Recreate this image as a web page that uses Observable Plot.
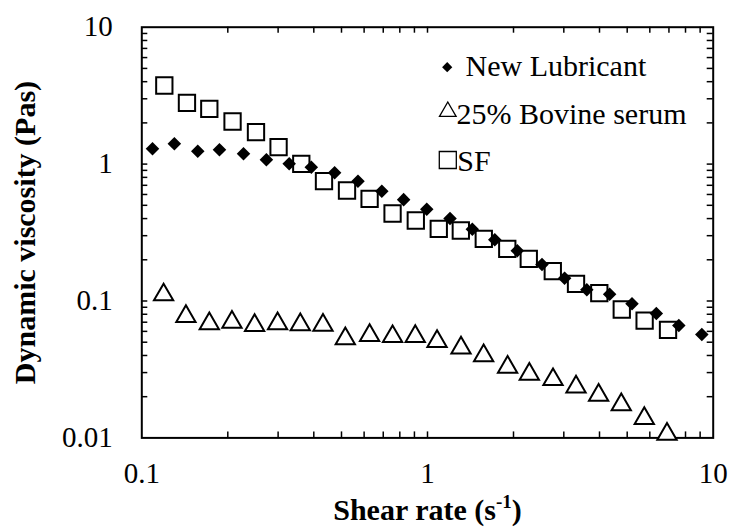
<!DOCTYPE html>
<html>
<head>
<meta charset="utf-8">
<script src="https://cdn.jsdelivr.net/npm/d3@7"></script>
<script src="https://cdn.jsdelivr.net/npm/@observablehq/plot@0.6"></script>
<style>
  html, body { margin: 0; padding: 0; background: #fff; }
</style>
</head>
<body>
<div id="chart"></div>
<script>
// ---- data ----
const seriesNames = ["New Lubricant", "25% Bovine serum", "SF"];

const lubRate = [0.109, 0.130, 0.157, 0.187, 0.227, 0.273, 0.328, 0.392, 0.473, 0.571, 0.692, 0.825, 0.994,
                 1.199, 1.435, 1.720, 2.062, 2.516, 3.019, 3.611, 4.340, 5.197, 6.323, 7.580, 9.123];
const lubVisc = [1.294, 1.407, 1.242, 1.272, 1.189, 1.075, 1.005, 0.949, 0.864, 0.750, 0.634, 0.550, 0.468,
                 0.401, 0.334, 0.280, 0.233, 0.185, 0.1465, 0.121, 0.112, 0.0954, 0.0811, 0.0663, 0.0569];

const serumRate = [0.1192, 0.1427, 0.1723, 0.2068, 0.2482, 0.2987, 0.3587, 0.4307, 0.5156, 0.6271, 0.7546, 0.906,
                   1.080, 1.310, 1.572, 1.907, 2.272, 2.750, 3.310, 3.971, 4.767, 5.739, 6.891];
const serumVisc = [0.1110, 0.0773, 0.0684, 0.0700, 0.0663, 0.0684, 0.0671, 0.0666, 0.0530, 0.0560, 0.0550, 0.0552,
                   0.0506, 0.0454, 0.0399, 0.0329, 0.0292, 0.0267, 0.0236, 0.0205, 0.0175, 0.0139, 0.01064];

const sfRate = [0.1199, 0.1439, 0.1723, 0.2078, 0.2510, 0.3011, 0.3616, 0.4342, 0.5227, 0.6271, 0.7546, 0.910,
                1.095, 1.308, 1.574, 1.902, 2.262, 2.745, 3.310, 3.993, 4.786, 5.754, 6.948];
const sfVisc = [3.751, 2.804, 2.534, 2.048, 1.710, 1.329, 1.005, 0.750, 0.6415, 0.558, 0.4357, 0.3873,
                0.3369, 0.3273, 0.2847, 0.2405, 0.2033, 0.1651, 0.1335, 0.1140, 0.0867, 0.0720, 0.0616];

const xTicks = [0.1, 1, 10];
const xTickLabels = ["0.1", "1", "10"];
const yTicks = [0.01, 0.1, 1, 10];
const yTickLabels = ["0.01", "0.1", "1", "10"];
const xMinorTicks = [0.2, 0.3, 0.4, 0.5, 0.6, 0.7, 0.8, 0.9, 1, 2, 3, 4, 5, 6, 7, 8, 9];
const yMinorTicks = [0.02, 0.03, 0.04, 0.05, 0.06, 0.07, 0.08, 0.09, 0.1,
                     0.2, 0.3, 0.4, 0.5, 0.6, 0.7, 0.8, 0.9, 1,
                     2, 3, 4, 5, 6, 7, 8, 9];

const xTitle = "Shear rate (s-1)";
const yTitle = "Dynamic viscosity (Pas)";

// ---- layout ----
const W = 730, H = 531;
const mL = 141.3, mR = 17.3, mT = 26.7, mB = 93.6;
const pw = W - mL - mR, ph = H - mT - mB;
const tickLen = 6;
const font = "'Liberation Serif', 'Times New Roman', Times, serif";

const rows = (xs, ys) => xs.map((x, i) => ({x, y: ys[i]}));
const lubRows = rows(lubRate, lubVisc);
const serumRows = rows(serumRate, serumVisc);
const sfRows = rows(sfRate, sfVisc);

const tickStyle = {stroke: "#000", strokeWidth: 1.5};
const textStyle = {fontFamily: font, fill: "#000"};

const chart = Plot.plot({
  width: W,
  height: H,
  marginLeft: mL,
  marginRight: mR,
  marginTop: mT,
  marginBottom: mB,
  style: {fontFamily: font, fontSize: "29px", color: "#000", background: "#fff", overflow: "visible"},
  x: {
    type: "log", domain: [0.1, 10], ticks: xTicks,
    tickFormat: d => xTickLabels[xTicks.indexOf(d)],
    tickSize: 0, tickPadding: 25, label: null
  },
  y: {
    type: "log", domain: [0.01, 10], ticks: yTicks,
    tickFormat: d => yTickLabels[yTicks.indexOf(d)],
    tickSize: 0, tickPadding: 29, label: null
  },
  marks: [
    // inward ticks on all four sides
    Plot.tickX(xMinorTicks, {x: d => d, insetTop: ph - tickLen, ...tickStyle}),
    Plot.tickX(xMinorTicks, {x: d => d, insetBottom: ph - tickLen, ...tickStyle}),
    Plot.tickY(yMinorTicks, {y: d => d, insetRight: pw - tickLen, ...tickStyle}),
    Plot.tickY(yMinorTicks, {y: d => d, insetLeft: pw - tickLen, ...tickStyle}),
    Plot.frame({stroke: "#000", strokeWidth: 2}),

    // data
    Plot.dot(sfRows, {x: "x", y: "y", symbol: "square", r: 9.2, fill: "white", stroke: "black", strokeWidth: 2}),
    Plot.dot(serumRows, {x: "x", y: "y", symbol: "triangle", r: 7.16, fill: "white", stroke: "black", strokeWidth: 2}),
    Plot.dot(lubRows, {x: "x", y: "y", symbol: "diamond2", r: 6.1, fill: "black", stroke: "none"}),

    // legend (inside the frame)
    Plot.dot([0], {frameAnchor: "top-left", dx: 305.4, dy: 40, symbol: "diamond2", r: 4.6, fill: "black", stroke: "none"}),
    Plot.dot([0], {frameAnchor: "top-left", dx: 306, dy: 84.4, symbol: "triangle", r: 6.17, fill: "none", stroke: "black", strokeWidth: 1.3}),
    Plot.dot([0], {frameAnchor: "top-left", dx: 306, dy: 132.8, symbol: "square", r: 9.6, fill: "none", stroke: "black", strokeWidth: 1.3}),
    Plot.text([seriesNames[0]], {text: d => d, frameAnchor: "top-left", dx: 323.7, dy: 48.3, textAnchor: "start", lineAnchor: "bottom", fontSize: 30, ...textStyle}),
    Plot.text([seriesNames[1]], {text: d => d, frameAnchor: "top-left", dx: 314.7, dy: 96.6, textAnchor: "start", lineAnchor: "bottom", fontSize: 30, ...textStyle}),
    Plot.text([seriesNames[2]], {text: d => d, frameAnchor: "top-left", dx: 315.4, dy: 143.3, textAnchor: "start", lineAnchor: "bottom", fontSize: 30, ...textStyle}),

    // axis titles
    Plot.text([yTitle], {text: d => d, frameAnchor: "left", dx: 25 - mL, rotate: -90, textAnchor: "middle", lineAnchor: "middle", fontSize: 30, fontWeight: "bold", ...textStyle}),
    Plot.text([xTitle], {text: d => d, frameAnchor: "bottom", dy: 82, textAnchor: "middle", lineAnchor: "bottom", fontSize: 30, fontWeight: "bold", ...textStyle})
  ]
});

document.getElementById("chart").appendChild(chart);

// superscript for the x-axis title unit
d3.select(chart).selectAll("text")
  .filter(function () { return this.textContent === xTitle; })
  .each(function () {
    const t = d3.select(this);
    t.text(null);
    t.append("tspan").text("Shear rate (s");
    t.append("tspan").attr("dy", -12).attr("font-size", 19).text("-1");
    t.append("tspan").attr("dy", 12).text(")");
  });
</script>
</body>
</html>
